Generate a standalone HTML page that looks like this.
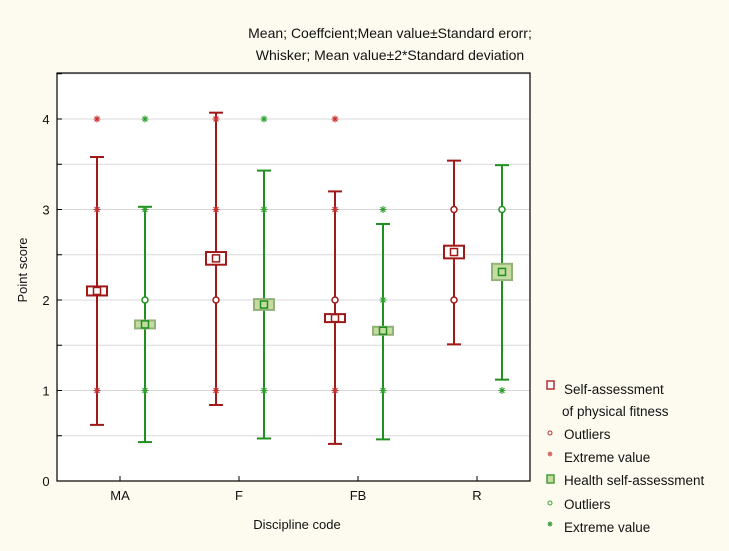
<!DOCTYPE html>
<html><head><meta charset="utf-8"><style>
body{margin:0;background:#fdfbf0;}
svg{display:block;font-family:"Liberation Sans",sans-serif;}
</style></head><body>
<svg id="c" width="729" height="551">
<rect x="0" y="0" width="729" height="551" fill="#fdfbf0"/>
<text x="390" y="38" text-anchor="middle" font-size="14" fill="#111">Mean; Coeffcient;Mean value±Standard erorr;</text>
<text x="390" y="60" text-anchor="middle" font-size="14" fill="#111">Whisker; Mean value±2*Standard deviation</text>
<rect x="57" y="73" width="473" height="408" fill="#fff"/>
<g id="grid"></g><g id="marks"></g>
<rect x="57" y="73" width="473" height="408" fill="none" stroke="#000" stroke-width="1.2"/>
<text transform="translate(27,270) rotate(-90)" text-anchor="middle" font-size="13" fill="#111">Point score</text>
<text x="297" y="529" text-anchor="middle" font-size="13" fill="#111">Discipline code</text>
<g font-size="13.5" fill="#111">
<rect x="547" y="381" width="7" height="8" fill="#fff" stroke="#b03030" stroke-width="1.5"/>
<text x="564" y="394">Self-assessment</text>
<text x="562" y="416">of physical fitness</text>
<circle cx="550" cy="433" r="2" fill="none" stroke="#b03030"/>
<text x="564" y="439">Outliers</text>
<g id="lgExtR"></g>
<text x="564" y="462">Extreme value</text>
<rect x="547" y="475" width="7" height="8" fill="#c5dca0" stroke="#4a9a3a" stroke-width="1.5"/>
<text x="564" y="485">Health self-assessment</text>
<circle cx="550" cy="503" r="2" fill="none" stroke="#3aa03a"/>
<text x="564" y="509">Outliers</text>
<g id="lgExtG"></g>
<text x="564" y="532">Extreme value</text>
</g>
</svg>
<script>
const categories=["MA","F","FB","R"];
const yTicks=[0,1,2,3,4];
const redMean=[2.1,2.46,1.8,2.53];
const redSE=[0.05,0.07,0.04,0.07];
const redLo=[0.62,0.84,0.41,1.51];
const redHi=[3.58,4.07,3.2,3.54];
const redOut=[[],[2],[2],[3,2]];
const redExt=[[4,3,1],[4,3,1],[4,3,1],[]];
const greenMean=[1.73,1.95,1.66,2.31];
const greenSE=[0.04,0.06,0.04,0.09];
const greenLo=[0.43,0.47,0.46,1.12];
const greenHi=[3.03,3.43,2.84,3.49];
const greenOut=[[2],[],[],[3]];
const greenExt=[[4,3,1],[4,3,1],[3,2,1],[1]];
const NS="http://www.w3.org/2000/svg";
const y=v=>481-v*90.5;
const xc=i=>120+i*119;
function mk(par,tag,at){const e=document.createElementNS(NS,tag);for(const k in at)e.setAttribute(k,at[k]);par.appendChild(e);return e;}
function star(par,x,cy,col,s){
const d=`M${x-s},${cy}H${x+s}M${x},${cy-s}V${cy+s}M${x-s*0.7},${cy-s*0.7}L${x+s*0.7},${cy+s*0.7}M${x-s*0.7},${cy+s*0.7}L${x+s*0.7},${cy-s*0.7}`;
return mk(par,'path',{d:d,stroke:col,'stroke-width':1.1,fill:'none'});}
star(document.getElementById('lgExtR'),550,454,'#d06060',2.5);
star(document.getElementById('lgExtG'),550,524,'#40a040',2.5);
const g=document.getElementById('grid'),m=document.getElementById('marks');
for(let v=0.5;v<=4.5;v+=0.5){const l=mk(g,'line',{x1:57,x2:530,y1:y(v),y2:y(v),stroke:'#d8d8d8','stroke-width':1});

}
for(let v=0;v<=4.5;v+=0.5){const t=mk(g,'line',{x1:57,x2:62,y1:y(v),y2:y(v),stroke:'#000'});

}
yTicks.forEach(v=>{const t=mk(g,'text',{x:46,y:y(v)+5,'text-anchor':'middle','font-size':13,fill:'#111'});t.textContent=v;

});
categories.forEach((c,i)=>{const t=mk(g,'text',{x:xc(i),y:500,'text-anchor':'middle','font-size':13,fill:'#111'});t.textContent=c;


const k=mk(g,'line',{x1:xc(i),x2:xc(i),y1:481,y2:476,stroke:'#000'});

});
function series(name,off,mean,se,lo,hi,out,ext,col,fill,boxStroke,extCol){
categories.forEach((c,i)=>{const x=xc(i)+off;
const w=mk(m,'line',{x1:x,x2:x,y1:y(lo[i]),y2:y(hi[i]),stroke:col,'stroke-width':2});


[lo[i],hi[i]].forEach(v=>{const cap=mk(m,'line',{x1:x-7,x2:x+7,y1:y(v),y2:y(v),stroke:col,'stroke-width':2});

});
ext[i].forEach(v=>{const t=star(m,x,y(v),extCol,3.5);

});
out[i].forEach(v=>{const o=mk(m,'circle',{cx:x,cy:y(v),r:3,fill:'#fff',stroke:col,'stroke-width':1.5});

});
const h=Math.max(y(mean[i]-se[i])-y(mean[i]+se[i]),8);
const b=mk(m,'rect',{x:x-10,y:y(mean[i])-h/2,width:20,height:h,fill:fill,stroke:boxStroke,'stroke-width':2});


const s=mk(m,'rect',{x:x-3.5,y:y(mean[i])-3.5,width:7,height:7,fill:fill,stroke:col,'stroke-width':1.5});

});}
series('fitness',-23,redMean,redSE,redLo,redHi,redOut,redExt,'#a01818','#fff','#a01818','#c83030');
series('health',25,greenMean,greenSE,greenLo,greenHi,greenOut,greenExt,'#1f9020','#c5dca0','#93b27a','#30a030');
</script>
</body></html>
